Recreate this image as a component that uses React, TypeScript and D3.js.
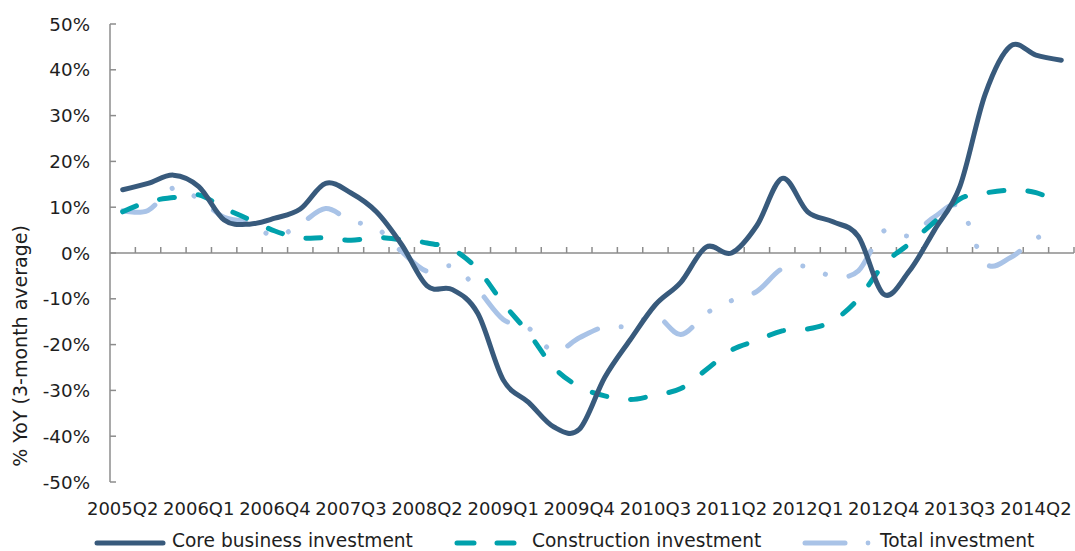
import React, { useLayoutEffect, useRef, useState } from 'react';
import * as d3 from 'd3';

const quarters = [
  '2005Q2', '2005Q3', '2005Q4', '2006Q1', '2006Q2', '2006Q3', '2006Q4', '2007Q1', '2007Q2', '2007Q3',
  '2007Q4', '2008Q1', '2008Q2', '2008Q3', '2008Q4', '2009Q1', '2009Q2', '2009Q3', '2009Q4', '2010Q1',
  '2010Q2', '2010Q3', '2010Q4', '2011Q1', '2011Q2', '2011Q3', '2011Q4', '2012Q1', '2012Q2', '2012Q3',
  '2012Q4', '2013Q1', '2013Q2', '2013Q3', '2013Q4', '2014Q1', '2014Q2', '2014Q3',
];

// % YoY, 3-month average
const coreInvestment = [
  13.8, 15.2, 17.0, 14.5, 7.2, 6.3, 7.6, 9.6, 15.2, 13.1,
  9.0, 1.8, -7.2, -8.0, -13.2, -27.7, -32.6, -38.0, -38.5, -27.2,
  -19.0, -11.3, -6.4, 1.3, 0.0, 6.0, 16.3, 9.0, 6.8, 3.6,
  -9.0, -4.0, 5.0, 14.5, 34.7, 45.2, 43.2, 42.1,
];
const constructionInvestment = [
  9.0, 11.2, 12.1, 12.7, 9.8, 7.3, 4.8, 3.3, 3.3, 2.8,
  3.4, 2.9, 2.2, 0.8, -3.6, -11.0, -17.5, -25.0, -29.2, -31.2,
  -32.0, -31.0, -29.6, -25.5, -21.2, -19.1, -17.0, -16.6, -14.8, -10.0,
  -2.5, 2.0, 6.8, 11.8, 13.1, 13.7, 13.2, 10.7,
];
const totalInvestment = [
  9.2, 9.3, 14.2, 11.8, 7.8, 6.7, 3.6, 6.3, 9.7, 7.0,
  5.5, 0.3, -4.0, -2.9, -8.0, -14.5, -16.4, -21.5, -18.5, -16.1,
  -16.0, -13.7, -17.8, -13.2, -10.4, -8.4, -3.4, -3.0, -5.1, -3.9,
  4.8, 3.8, 7.9, 10.0, -2.2, -1.0, 3.2, 4.5,
];
const yTicks = [50, 40, 30, 20, 10, 0, -10, -20, -30, -40, -50];

const W = 1075;
const H = 551;
const left = 110;
const right = 1074;
const top = 24;
const bottom = 482;

const font = '"DejaVu Sans", Verdana, sans-serif';
const textColor = '#1e1e1e';
const axisColor = '#8c8c8c';

const colors = { core: '#385a7c', construction: '#00a1ac', total: '#a9c3e7' };

// long dash, dot, dot (relative lengths)
const dashDotDot = [33, 23, 0.1, 23, 0.1, 23];

export default function App() {
  const totalRef = useRef<SVGPathElement>(null);
  const [totalDash, setTotalDash] = useState(dashDotDot.join(' '));

  const x = d3.scaleBand<string>().domain(quarters).range([left, right]).padding(0);
  const y = d3.scaleLinear().domain([-50, 50]).range([bottom, top]);
  const cx = (q: string) => (x(q) as number) + x.bandwidth() / 2;

  const line = d3
    .line<number>()
    .x((_, i) => cx(quarters[i]))
    .y((d) => y(d))
    .curve(d3.curveCardinal.tension(0));

  const y0 = y(0);

  // fit the dash-dot-dot rhythm so that the 11th dash starts near x=988, as in the source
  useLayoutEffect(() => {
    const p = totalRef.current;
    if (!p) return;
    const L = p.getTotalLength();
    let lo = 0;
    let hi = L;
    for (let k = 0; k < 40; k++) {
      const mid = (lo + hi) / 2;
      if (p.getPointAtLength(mid).x < 988) lo = mid;
      else hi = mid;
    }
    const period = lo / 10;
    const sum = d3.sum(dashDotDot);
    setTotalDash(dashDotDot.map((d) => (d * period) / sum).join(' '));
  }, []);

  return (
    <svg width={W} height={H} style={{ position: 'absolute', left: 0, top: 0, background: '#fff' }}>
      {/* y axis */}
      <line x1={left} x2={left} y1={top} y2={bottom} stroke={axisColor} strokeWidth={1.5} />
      {yTicks.map((t) => (
        <g key={t}>
          <line x1={left} x2={left + 6} y1={y(t)} y2={y(t)} stroke={axisColor} strokeWidth={1.5} />
          <text
            x={90}
            y={y(t)}
            textAnchor="end"
            dominantBaseline="central"
            fontFamily={font}
            fontSize={18.3}
            fill={textColor}
          >
            {t}%
          </text>
        </g>
      ))}
      <text
        transform={`translate(20,346) rotate(-90)`}
        textAnchor="middle"
        dominantBaseline="central"
        fontFamily={font}
        fontSize={19}
        fill={textColor}
      >
        % YoY (3-month average)
      </text>

      {/* x axis at zero */}
      <line x1={left} x2={right} y1={y0} y2={y0} stroke={axisColor} strokeWidth={1.5} />
      {quarters.map((q) => (
        <line
          key={q}
          x1={(x(q) as number) + x.bandwidth()}
          x2={(x(q) as number) + x.bandwidth()}
          y1={y0}
          y2={y0 - 6}
          stroke={axisColor}
          strokeWidth={1.5}
        />
      ))}
      {quarters.map((q, i) =>
        i % 3 === 0 ? (
          <text key={q} x={cx(q)} y={515} textAnchor="middle" fontFamily={font} fontSize={18} fill={textColor}>
            {q}
          </text>
        ) : null
      )}

      {/* series, back to front */}
      <path
        ref={totalRef}
        d={line(totalInvestment) || ''}
        fill="none"
        stroke={colors.total}
        strokeWidth={5}
        strokeLinecap="round"
        strokeLinejoin="round"
        strokeDasharray={totalDash}
      />
      <path
        d={line(constructionInvestment) || ''}
        fill="none"
        stroke={colors.construction}
        strokeWidth={5}
        strokeLinecap="round"
        strokeLinejoin="round"
        strokeDasharray="15 24"
      />
      <path
        d={line(coreInvestment) || ''}
        fill="none"
        stroke={colors.core}
        strokeWidth={5}
        strokeLinecap="round"
        strokeLinejoin="round"
      />

      {/* legend */}
      <g fontFamily={font} fontSize={18.6} fill={textColor}>
        <line x1={97} x2={163} y1={543} y2={543} stroke={colors.core} strokeWidth={5} strokeLinecap="round" />
        <text x={172} y={547}>Core business investment</text>

        <line x1={457} x2={516} y1={543} y2={543} stroke={colors.construction} strokeWidth={5} strokeLinecap="round" strokeDasharray="17 23" />
        <text x={532} y={547}>Construction investment</text>

        <line x1={805} x2={845} y1={543} y2={543} stroke={colors.total} strokeWidth={5} strokeLinecap="round" />
        <circle cx={868} cy={543} r={2.4} fill={colors.total} />
        <text x={880} y={547}>Total investment</text>
      </g>
    </svg>
  );
}
